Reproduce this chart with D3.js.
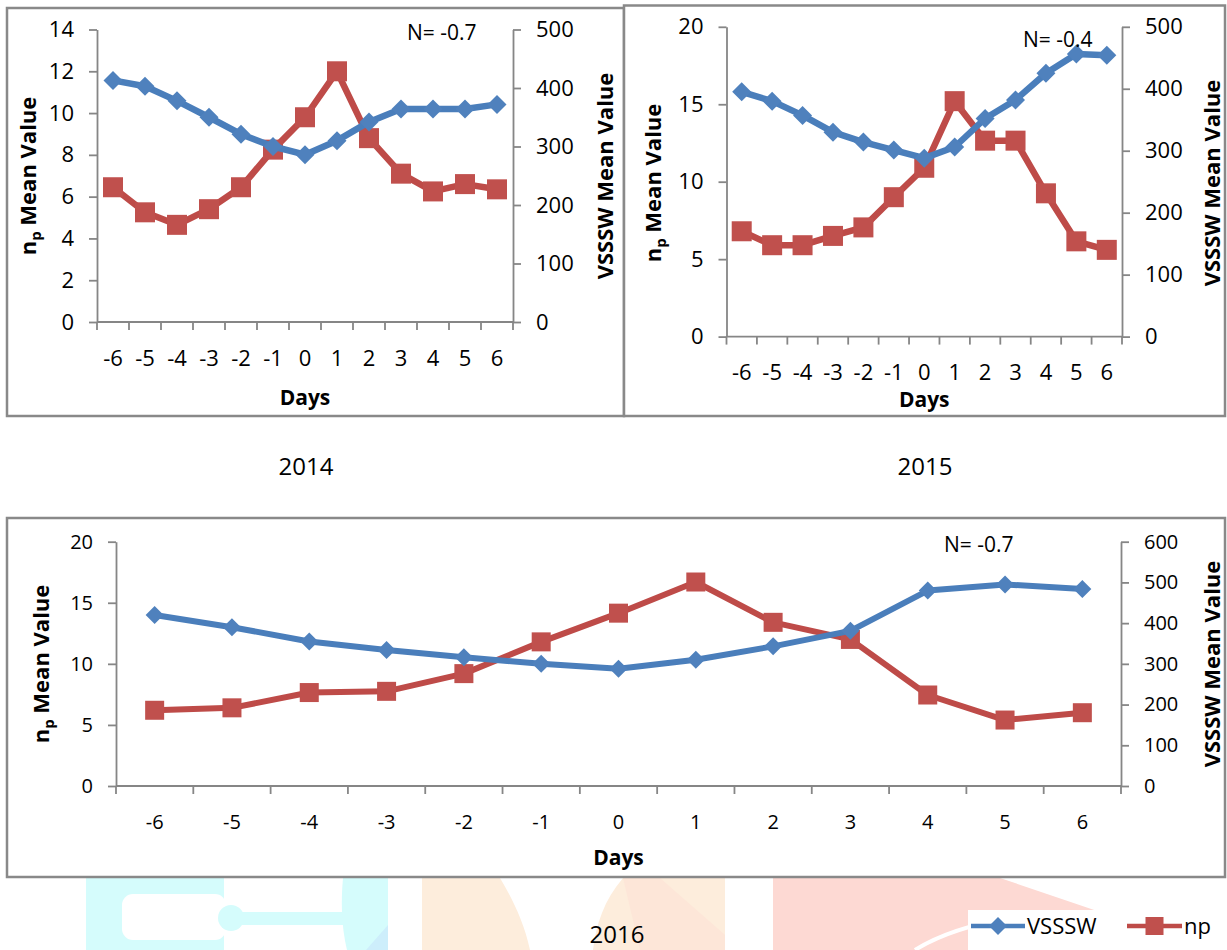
<!DOCTYPE html>
<html>
<head>
<meta charset="utf-8">
<script src="https://cdn.jsdelivr.net/npm/d3@7"></script>
<style>
  body { margin: 0; background: #fff; }
  svg text { font-family: "Open Sans", "Noto Sans", sans-serif; fill: #000; }
</style>
</head>
<body>
<svg id="chart" width="1227" height="950"></svg>
<script>
// ---- data ----
const days = [-6, -5, -4, -3, -2, -1, 0, 1, 2, 3, 4, 5, 6];

const vsssw2014 = [413, 403, 378, 350, 321, 300, 286, 310, 342, 364, 364, 364, 372];
const np2014    = [6.45, 5.25, 4.65, 5.4, 6.45, 8.25, 9.8, 12.0, 8.8, 7.1, 6.25, 6.6, 6.35];

const vsssw2015 = [395, 380, 357, 330, 314, 301, 288, 306, 352, 382, 425, 456, 454];
const np2015    = [6.8, 5.9, 5.9, 6.5, 7.05, 9.0, 10.9, 15.2, 12.65, 12.65, 9.25, 6.15, 5.6];

const vsssw2016 = [420, 390, 355, 334, 316, 300, 288, 310, 343, 381, 480, 495, 484];
const np2016    = [6.2, 6.4, 7.65, 7.75, 9.2, 11.8, 14.15, 16.7, 13.4, 12.0, 7.45, 5.4, 6.0];

const npTicks2014 = [0, 2, 4, 6, 8, 10, 12, 14];
const npTicks2015 = [0, 5, 10, 15, 20];
const npTicks2016 = [0, 5, 10, 15, 20];
const vTicks2014 = [0, 100, 200, 300, 400, 500];
const vTicks2015 = [0, 100, 200, 300, 400, 500];
const vTicks2016 = [0, 100, 200, 300, 400, 500, 600];

const years = ["2014", "2015", "2016"];
const corrLabels = ["N= -0.7", "N= -0.4", "N= -0.7"];
const seriesNames = ["VSSSW", "np"];

// ---- styles ----
const BLUE = "#4f81bd", BLUE_LINE = "#4a7ebb";
const RED = "#c0504d", RED_LINE = "#be4b48";
const AXIS = "#868686", FRAME = "#898989";

// ---- layout of the three panels ----
const panels = [
  { year: years[0], n: corrLabels[0], np: np2014, v: vsssw2014, npTicks: npTicks2014, vTicks: vTicks2014,
    frame: [7, 8, 624, 416], x0: 97, x1: 513, yTop: 29.5, yBot: 322,
    font: 22, lw: 6.5, sq: 20, di: 9.5, tlx: 28, trx: 605, tcy: 176, daysY: 398,
    nx: 407, ny: 33, capX: 306, capY: 467 },
  { year: years[1], n: corrLabels[1], np: np2015, v: vsssw2015, npTicks: npTicks2015, vTicks: vTicks2015,
    frame: [624, 5.5, 1225, 416], x0: 726.5, x1: 1122, yTop: 26.8, yBot: 336.6,
    font: 22, lw: 6.5, sq: 20, di: 9.5, tlx: 653, trx: 1212, tcy: 183, daysY: 400,
    nx: 1023, ny: 40, capX: 925, capY: 467 },
  { year: years[2], n: corrLabels[2], np: np2016, v: vsssw2016, npTicks: npTicks2016, vTicks: vTicks2016,
    frame: [7, 518, 1225, 877], x0: 116, x1: 1121, yTop: 541.7, yBot: 786,
    font: 20, lw: 6, sq: 19, di: 9, tlx: 41.5, trx: 1212, tcy: 664, daysY: 858,
    nx: 944, ny: 545, capX: 617, capY: 935 }
];

const svg = d3.select("#chart");

// ---- faint logo shapes behind the bottom area ----
const wm = svg.append("g");
const CYAN = "#d5fcfc", ORANGE = "#fdeddc", PINK = "#fdd9d3";
wm.append("rect").attr("x", 86).attr("y", 878).attr("width", 138).attr("height", 72).attr("fill", CYAN);
wm.append("rect").attr("x", 122).attr("y", 894).attr("width", 104).attr("height", 46).attr("rx", 11).attr("fill", "#fff");
wm.append("circle").attr("cx", 231).attr("cy", 918).attr("r", 13).attr("fill", CYAN);
wm.append("rect").attr("x", 231).attr("y", 912).attr("width", 118).attr("height", 13).attr("fill", CYAN);
wm.append("path").attr("d", "M343,878 L388,878 L388,950 L347,950 C341,925 341,900 343,878 Z").attr("fill", CYAN);
wm.append("path").attr("d", "M366,950 L388,925 L388,950 Z").attr("fill", "#cdeefb");
wm.append("rect").attr("x", 422).attr("y", 878).attr("width", 303).attr("height", 72).attr("fill", ORANGE);
wm.append("path").attr("d", "M623,878 L660,878 L725,935 L725,950 L640,950 Z").attr("fill", "#fde6d8");
wm.append("path").attr("d", "M500,878 L623,878 C604,900 596,925 593,950 L530,950 C524,922 512,898 500,878 Z").attr("fill", "#fff");
wm.append("path").attr("d", "M773,878 L1000,878 L1227,955 L1227,950 L773,950 Z").attr("fill", PINK);
wm.append("path").attr("d", "M915,950 Q950,928 1010,918").attr("fill", "none").attr("stroke", "#fff").attr("stroke-width", 4);

// ---- panels ----
panels.forEach(p => {
  const [fx0, fy0, fx1, fy1] = p.frame;
  svg.append("rect")
    .attr("x", fx0).attr("y", fy0).attr("width", fx1 - fx0).attr("height", fy1 - fy0)
    .attr("fill", "#fff").attr("stroke", FRAME).attr("stroke-width", 2.5);

  const g = svg.append("g");
  const x = d3.scaleBand().domain(days).range([p.x0, p.x1]).padding(0);
  const cx = d => x(d) + x.bandwidth() / 2;
  const yNp = d3.scaleLinear().domain([0, d3.max(p.npTicks)]).range([p.yBot, p.yTop]);
  const yV = d3.scaleLinear().domain([0, d3.max(p.vTicks)]).range([p.yBot, p.yTop]);

  // left axis
  const la = g.append("g").attr("transform", `translate(${p.x0},0)`)
    .call(d3.axisLeft(yNp).tickValues(p.npTicks).tickSize(8).tickSizeOuter(0).tickPadding(15));
  // right axis
  const ra = g.append("g").attr("transform", `translate(${p.x1},0)`)
    .call(d3.axisRight(yV).tickValues(p.vTicks).tickSize(8).tickSizeOuter(0).tickPadding(15));
  // x axis: labels centred in the bands, ticks on the band edges
  const xa = g.append("g").attr("transform", `translate(0,${p.yBot})`)
    .call(d3.axisBottom(x).tickSize(0).tickPadding(36 - 0.353 * p.font));
  xa.select(".domain").attr("d", `M${p.x0},0H${p.x1}`);
  xa.selectAll(".edge").data(d3.range(days.length + 1)).enter().append("line")
    .attr("class", "edge")
    .attr("x1", i => p.x0 + i * x.step()).attr("x2", i => p.x0 + i * x.step())
    .attr("y1", 0).attr("y2", 8);

  [la, ra, xa].forEach(a => {
    a.selectAll(".domain, line").attr("stroke", AXIS).attr("stroke-width", 1.8);
    a.selectAll("text").attr("font-size", p.font).attr("font-family", "Open Sans").attr("fill", "#000");
  });

  // series: np on the left axis, VSSSW on the right axis
  const lineNp = d3.line().x((d, i) => cx(days[i])).y(d => yNp(d));
  const lineV = d3.line().x((d, i) => cx(days[i])).y(d => yV(d));

  g.append("path").datum(p.np).attr("d", lineNp)
    .attr("fill", "none").attr("stroke", RED_LINE).attr("stroke-width", p.lw).attr("stroke-linejoin", "round");
  g.selectAll(".sq").data(p.np).enter().append("rect")
    .attr("x", (d, i) => cx(days[i]) - p.sq / 2).attr("y", d => yNp(d) - p.sq / 2)
    .attr("width", p.sq).attr("height", p.sq).attr("fill", RED);

  g.append("path").datum(p.v).attr("d", lineV)
    .attr("fill", "none").attr("stroke", BLUE_LINE).attr("stroke-width", p.lw).attr("stroke-linejoin", "round");
  g.selectAll(".di").data(p.v).enter().append("path")
    .attr("transform", (d, i) => `translate(${cx(days[i])},${yV(d)})`)
    .attr("d", `M0,${-p.di}L${p.di},0L0,${p.di}L${-p.di},0Z`).attr("fill", BLUE);

  // axis titles
  const lt = g.append("text")
    .attr("transform", `translate(${p.tlx},${p.tcy}) rotate(-90)`)
    .attr("text-anchor", "middle").attr("dy", "0.35em")
    .attr("font-size", 22).attr("font-weight", "bold");
  lt.append("tspan").text("n");
  lt.append("tspan").text("p").attr("font-size", 15).attr("dy", 5);
  lt.append("tspan").text(" Mean Value").attr("dy", -5);

  g.append("text")
    .attr("transform", `translate(${p.trx},${p.tcy}) rotate(-90)`)
    .attr("text-anchor", "middle").attr("dy", "0.35em")
    .attr("font-size", 22).attr("font-weight", "bold")
    .text("VSSSW Mean Value");

  g.append("text").attr("x", (p.x0 + p.x1) / 2).attr("y", p.daysY).attr("dy", "0.35em")
    .attr("text-anchor", "middle").attr("font-size", 21).attr("font-weight", "bold").text("Days");

  g.append("text").attr("x", p.nx).attr("y", p.ny).attr("dy", "0.35em")
    .attr("font-size", 21).text(p.n);

  svg.append("text").attr("x", p.capX).attr("y", p.capY).attr("dy", "0.35em")
    .attr("text-anchor", "middle").attr("font-size", 24).text(p.year);
});

// ---- legend ----
const lg = svg.append("g");
lg.append("rect").attr("x", 968).attr("y", 910).attr("width", 259).attr("height", 40).attr("fill", "#fff");
const legendItems = [
  { name: seriesNames[0], x1: 971, x2: 1025, tx: 1027, color: BLUE_LINE, fill: BLUE, shape: "diamond" },
  { name: seriesNames[1], x1: 1127, x2: 1182, tx: 1184, color: RED_LINE, fill: RED, shape: "square" }
];
legendItems.forEach(it => {
  const ly = 926;
  lg.append("line").attr("x1", it.x1).attr("x2", it.x2).attr("y1", ly).attr("y2", ly)
    .attr("stroke", it.color).attr("stroke-width", 4.5);
  const mx = (it.x1 + it.x2) / 2;
  if (it.shape === "diamond") {
    lg.append("path").attr("transform", `translate(${mx},${ly})`)
      .attr("d", "M0,-9L9,0L0,9L-9,0Z").attr("fill", it.fill);
  } else {
    lg.append("rect").attr("x", mx - 9).attr("y", ly - 9).attr("width", 18).attr("height", 18).attr("fill", it.fill);
  }
  lg.append("text").attr("x", it.tx).attr("y", ly).attr("dy", "0.35em")
    .attr("font-size", 22).text(it.name);
});
</script>
</body>
</html>
